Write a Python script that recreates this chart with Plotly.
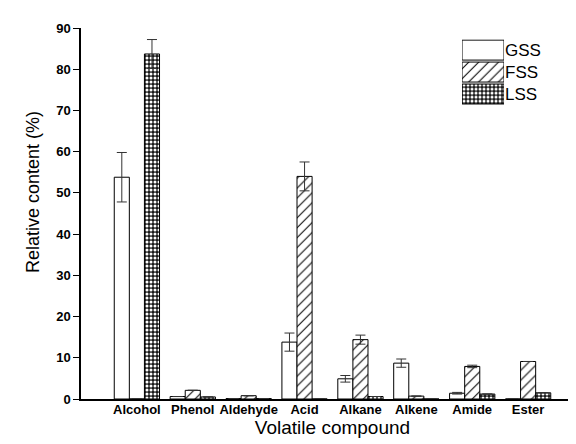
import plotly.graph_objects as go

categories = ["Alcohol", "Phenol", "Aldehyde", "Acid", "Alkane", "Alkene", "Amide", "Ester"]
series_names = ["GSS", "FSS", "LSS"]

gss = [53.8, 0.6, 0.1, 13.8, 4.9, 8.7, 1.4, 0.0]
gss_err = [6.0, 0.0, 0.0, 2.2, 0.8, 1.0, 0.2, 0.0]
fss = [0.0, 2.1, 0.8, 54.0, 14.4, 0.7, 7.9, 9.1]
fss_err = [0.0, 0.0, 0.0, 3.5, 1.1, 0.0, 0.3, 0.0]
lss = [83.7, 0.5, 0.1, 0.0, 0.6, 0.0, 1.2, 1.5]
lss_err = [3.5, 0.0, 0.0, 0.0, 0.0, 0.0, 0.0, 0.0]

y_ticks = [0, 10, 20, 30, 40, 50, 60, 70, 80, 90]

FONT = "Arial, Liberation Sans, sans-serif"

styles = {
    "GSS": dict(color="white", pattern=dict(shape="")),
    "FSS": dict(color="white", pattern=dict(shape="/", fgcolor="black", bgcolor="white",
                                            size=7, solidity=0.15, fillmode="replace")),
    "LSS": dict(color="#1a1a1a", pattern=dict(shape=".", fgcolor="white", bgcolor="#1a1a1a",
                                              size=4, solidity=0.45, fillmode="replace")),
}

fig = go.Figure()
for name, vals, errs in zip(series_names, [gss, fss, lss], [gss_err, fss_err, lss_err]):
    st = styles[name]
    fig.add_trace(go.Bar(
        x=categories, y=vals, name=name,
        marker=dict(color=st["color"], pattern=st["pattern"],
                    line=dict(color="black", width=1)),
        error_y=dict(type="data", array=errs, visible=True, color="#333333",
                     thickness=1, width=5),
        showlegend=False,
    ))

# Legend swatches drawn as bars on an auxiliary axis
for name in series_names:
    st = styles[name]
    fig.add_trace(go.Bar(
        x=[1], y=[name], orientation="h", xaxis="x2", yaxis="y2",
        marker=dict(color=st["color"], pattern=st["pattern"],
                    line=dict(color="black", width=1)),
        showlegend=False, hoverinfo="skip", width=0.91,
    ))

fig.update_layout(
    width=576, height=444,
    margin=dict(l=73, r=0, t=20, b=53),
    paper_bgcolor="white", plot_bgcolor="white",
    barmode="group", bargap=0.19, bargroupgap=0,
    font=dict(family=FONT, color="black"),
    xaxis=dict(
        range=[-1, 8], tickmode="array", tickvals=categories, ticktext=categories,
        showline=True, linecolor="black", linewidth=1.5, ticks="",
        tickfont=dict(family=FONT, size=13, color="black", weight="bold"),
        ticklabelstandoff=-2,
        title=dict(text="Volatile compound", font=dict(family=FONT, size=19), standoff=4),
        showgrid=False, zeroline=False,
    ),
    yaxis=dict(
        range=[0, 90], tickvals=y_ticks, showline=True, linecolor="black", linewidth=1.5,
        ticks="outside", ticklen=6, tickwidth=1.2, tickcolor="black",
        tickfont=dict(family=FONT, size=13, color="black", weight="bold"),
        showgrid=False, zeroline=False,
    ),
    xaxis2=dict(domain=[0.7575, 0.841], range=[0, 1], anchor="y2",
                showticklabels=False, showgrid=False, zeroline=False, showline=False,
                fixedrange=True),
    yaxis2=dict(domain=[0.7925, 0.970], anchor="x2", side="right", autorange="reversed",
                showgrid=False, zeroline=False, showline=False, ticks="",
                tickfont=dict(family=FONT, size=17, color="black"), ticklabelstandoff=0),
    annotations=[dict(text="Relative content (%)", textangle=-90, x=-0.0954, y=0.558,
                      xref="paper", yref="paper", xanchor="center", yanchor="middle",
                      showarrow=False,
                      font=dict(family=FONT, size=18, color="black"))],
)

fig.write_html("out.html")
